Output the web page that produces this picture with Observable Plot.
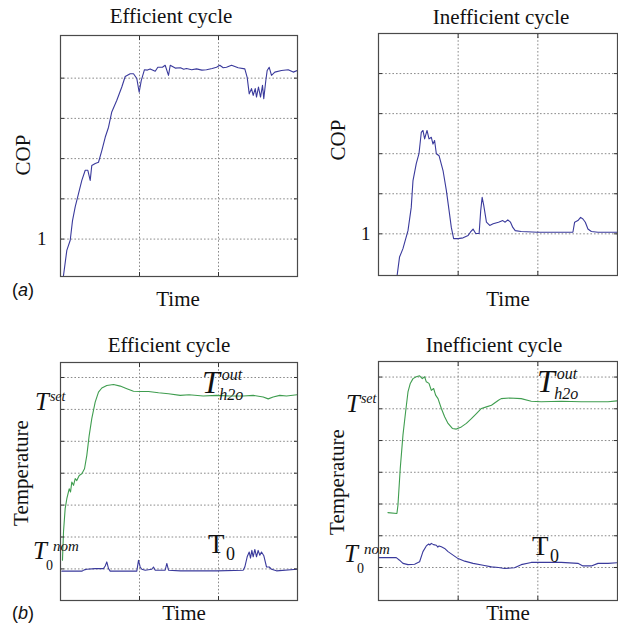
<!DOCTYPE html>
<html>
<head>
<meta charset="utf-8">
<script src="https://cdn.jsdelivr.net/npm/d3@7"></script>
<script src="https://cdn.jsdelivr.net/npm/@observablehq/plot@0.6"></script>
<style>
  html, body { margin: 0; padding: 0; background: #fff; }
  #root { position: relative; width: 618px; height: 631px; overflow: hidden; background: #fff; }
  #overlay { position: absolute; left: 0; top: 0; pointer-events: none; }
</style>
</head>
<body>
<div id="root"></div>
<script>
// ---------- data (time in grid units, values in grid units) ----------
const copEfficient = [[0.035,0.05],[0.080,0.72],[0.123,0.97],[0.152,1.46],[0.186,1.80],[0.228,2.13],[0.270,2.46],[0.313,2.71],[0.346,2.71],[0.376,2.46],[0.396,2.83],[0.440,2.88],[0.481,2.91],[0.523,3.20],[0.566,3.53],[0.608,3.78],[0.649,4.16],[0.713,4.45],[0.776,4.78],[0.819,5.04],[0.882,5.11],[0.924,5.11],[0.966,4.99],[0.996,4.65],[1.022,4.94],[1.063,5.21],[1.100,5.20],[1.135,5.23],[1.199,5.17],[1.232,5.27],[1.290,5.27],[1.325,5.32],[1.367,5.07],[1.389,5.32],[1.452,5.25],[1.519,5.26],[1.560,5.22],[1.595,5.24],[1.660,5.21],[1.722,5.23],[1.790,5.20],[1.848,5.21],[1.920,5.24],[1.975,5.27],[2.016,5.32],[2.060,5.26],[2.101,5.27],[2.165,5.32],[2.249,5.26],[2.333,5.23],[2.363,5.02],[2.389,4.61],[2.418,4.74],[2.439,4.57],[2.465,4.74],[2.481,4.53],[2.506,4.78],[2.532,4.53],[2.557,4.82],[2.573,4.49],[2.599,4.94],[2.616,5.19],[2.642,5.27],[2.671,5.07],[2.713,5.15],[2.797,5.19],[2.882,5.21],[2.946,5.15],[3.0,5.19]];
const copInefficient = [[0.231,-0.08],[0.264,0.42],[0.307,0.63],[0.370,1.08],[0.411,1.66],[0.433,2.33],[0.474,2.75],[0.508,3.00],[0.537,3.53],[0.558,3.58],[0.579,3.37],[0.609,3.58],[0.634,3.37],[0.663,3.41],[0.684,3.24],[0.704,3.33],[0.726,3.00],[0.760,2.95],[0.810,2.58],[0.852,2.08],[0.886,1.58],[0.914,1.16],[0.943,0.88],[0.999,0.88],[1.062,0.90],[1.125,0.96],[1.153,1.04],[1.187,1.12],[1.220,1.01],[1.263,1.01],[1.283,1.58],[1.301,1.91],[1.321,1.71],[1.355,1.29],[1.396,1.21],[1.439,1.25],[1.506,1.29],[1.560,1.33],[1.590,1.29],[1.623,1.35],[1.657,1.29],[1.686,1.16],[1.716,1.08],[1.791,1.06],[2.0,1.04],[2.294,1.04],[2.440,1.04],[2.462,1.29],[2.503,1.33],[2.537,1.41],[2.566,1.37],[2.596,1.29],[2.629,1.12],[2.672,1.06],[2.755,1.04],[3.0,1.04]];
const waterEfficient = [[0.025,0.27],[0.038,1.16],[0.059,1.89],[0.080,2.20],[0.110,2.51],[0.127,2.41],[0.143,2.72],[0.165,2.62],[0.186,2.83],[0.206,2.77],[0.237,2.93],[0.270,2.98],[0.304,3.14],[0.333,3.56],[0.363,4.18],[0.396,4.71],[0.439,5.23],[0.481,5.54],[0.523,5.67],[0.586,5.75],[0.671,5.78],[0.756,5.73],[0.840,5.65],[0.924,5.57],[1.009,5.56],[1.114,5.56],[1.241,5.52],[1.367,5.49],[1.515,5.44],[1.628,5.46],[1.806,5.42],[1.975,5.44],[2.144,5.42],[2.312,5.42],[2.439,5.44],[2.566,5.39],[2.629,5.33],[2.692,5.39],[2.776,5.44],[2.861,5.42],[3.0,5.46]];
const ambientEfficient = [[0.017,-0.07],[0.143,-0.07],[0.270,-0.07],[0.300,-0.03],[0.333,-0.01],[0.439,0.01],[0.544,0.01],[0.566,0.09],[0.586,0.22],[0.608,0.01],[0.629,-0.07],[0.734,-0.07],[0.966,-0.07],[0.987,0.27],[1.009,0.06],[1.029,-0.01],[1.072,-0.04],[1.156,-0.01],[1.177,0.06],[1.199,-0.04],[1.325,-0.04],[1.346,0.17],[1.367,-0.04],[1.519,-0.06],[1.975,-0.06],[2.312,-0.04],[2.333,0.06],[2.363,0.38],[2.389,0.53],[2.405,0.34],[2.422,0.58],[2.439,0.38],[2.460,0.61],[2.481,0.38],[2.502,0.58],[2.523,0.43],[2.544,0.53],[2.574,0.41],[2.608,0.06],[2.642,0.06],[2.671,-0.01],[2.734,-0.06],[3.0,-0.01]];
const waterInefficient = [[0.118,1.73],[0.231,1.70],[0.244,1.96],[0.273,3.12],[0.307,4.17],[0.340,4.90],[0.370,5.53],[0.399,5.80],[0.433,5.95],[0.474,6.01],[0.516,6.04],[0.550,5.95],[0.579,6.01],[0.600,5.85],[0.634,5.80],[0.663,5.58],[0.692,5.64],[0.717,5.43],[0.747,5.32],[0.789,5.01],[0.830,4.75],[0.873,4.54],[0.927,4.38],[0.977,4.36],[1.040,4.43],[1.103,4.54],[1.166,4.69],[1.229,4.85],[1.292,5.01],[1.355,5.06],[1.418,5.11],[1.506,5.27],[1.540,5.32],[1.644,5.34],[1.791,5.32],[1.917,5.24],[2.043,5.22],[2.294,5.24],[2.546,5.22],[2.713,5.22],[2.881,5.22],[3.0,5.25]];
const ambientInefficient = [[0,0.31],[0.223,0.31],[0.264,0.23],[0.307,0.13],[0.370,0.09],[0.453,0.10],[0.516,0.18],[0.558,0.50],[0.600,0.68],[0.630,0.74],[0.645,0.71],[0.663,0.76],[0.690,0.72],[0.726,0.70],[0.745,0.64],[0.760,0.68],[0.789,0.65],[0.830,0.60],[0.873,0.50],[0.936,0.39],[0.999,0.28],[1.082,0.20],[1.187,0.13],[1.313,0.07],[1.418,0.02],[1.506,0.0],[1.581,-0.03],[1.707,-0.01],[1.791,0.09],[1.917,0.16],[2.084,0.16],[2.294,0.16],[2.503,0.13],[2.566,0.05],[2.672,0.05],[2.755,0.13],[2.881,0.13],[3.0,0.15]];

const timeTicks = [1, 2];
const copTicks = [1, 2, 3, 4, 5];
const copLabelTicks = [1];
const tempTicks = [0, 1, 2, 3, 4, 5, 6];

const blue = "#3a3a9c";
const green = "#3f9d4f";
const gridStyle = {stroke: "#8a8a8a", strokeOpacity: 1, strokeWidth: 1, strokeDasharray: "1.6,2"};

const root = document.getElementById("root");

function panel({left, top, w, h, yDomain, yGrid, series, labelTicks, labelPadding}) {
  const mL = 34, mT = 4, mR = 1, mB = 4;
  const marks = [
    Plot.ruleX(timeTicks, {x: d => d, ...gridStyle}),
    Plot.ruleY(yGrid, {y: d => d, ...gridStyle}),
    ...series.map(s => Plot.line(s.data, {x: d => d[0], y: d => d[1], stroke: s.color, strokeWidth: 1.1, clip: true})),
    Plot.axisX(timeTicks, {anchor: "bottom", tickSize: -4, tickFormat: () => "", label: null, stroke: "#333"}),
    Plot.axisX(timeTicks, {anchor: "top", tickSize: -4, tickFormat: () => "", label: null, stroke: "#333"}),
    Plot.axisY(yGrid, {anchor: "left", tickSize: -4, tickFormat: () => "", label: null, stroke: "#333"}),
    Plot.axisY(yGrid, {anchor: "right", tickSize: -4, tickFormat: () => "", label: null, stroke: "#333"}),
    Plot.frame({stroke: "#4a4a4a", strokeWidth: 1.2})
  ];
  if (labelTicks) {
    marks.push(Plot.axisY(labelTicks, {anchor: "left", tickSize: 0, tickPadding: labelPadding, fontSize: 19, label: null, tickFormat: d => String(d), fill: "#111"}));
  }
  const chart = Plot.plot({
    width: w + mL + mR,
    height: h + mT + mB,
    marginLeft: mL, marginTop: mT, marginRight: mR, marginBottom: mB,
    x: {domain: [0, 3], axis: null},
    y: {domain: yDomain, axis: null},
    style: {background: "transparent", overflow: "visible", fontFamily: "Liberation Serif, Times New Roman, serif"},
    marks
  });
  chart.style.position = "absolute";
  chart.style.left = (left - mL) + "px";
  chart.style.top = (top - mT) + "px";
  root.appendChild(chart);
}

panel({left: 60, top: 35, w: 237, h: 241, yDomain: [0.07, 6.06], yGrid: copTicks,
       series: [{data: copEfficient, color: blue}], labelTicks: copLabelTicks, labelPadding: 14});
panel({left: 378, top: 33, w: 239, h: 242, yDomain: [-0.04, 6], yGrid: copTicks,
       series: [{data: copInefficient, color: blue}], labelTicks: copLabelTicks, labelPadding: 8});
panel({left: 60, top: 362, w: 237, h: 238, yDomain: [-0.99, 6.47], yGrid: tempTicks,
       series: [{data: waterEfficient, color: green}, {data: ambientEfficient, color: blue}]});
panel({left: 378, top: 361, w: 239, h: 239, yDomain: [-1.04, 6.49], yGrid: tempTicks,
       series: [{data: waterInefficient, color: green}, {data: ambientInefficient, color: blue}]});

// ---------- text overlay ----------
const svg = d3.select(root).append("svg").attr("id", "overlay").attr("width", 618).attr("height", 631)
  .style("font-family", "Liberation Serif, Times New Roman, serif").style("fill", "#111");

function txt(x, y, s, size, opts = {}) {
  const t = svg.append("text").attr("x", x).attr("y", y).attr("font-size", size).text(s);
  if (opts.anchor) t.attr("text-anchor", opts.anchor);
  if (opts.italic) t.attr("font-style", "italic");
  if (opts.rotate) t.attr("transform", `rotate(-90 ${x} ${y})`);
  if (opts.family) t.style("font-family", opts.family);
  return t;
}
function span(t, s, size, opts = {}) {
  const sp = t.append("tspan").attr("font-size", size).text(s);
  if (opts.italic) sp.attr("font-style", "italic");
  if (opts.dx != null) sp.attr("dx", opts.dx);
  if (opts.dy != null) sp.attr("dy", opts.dy);
  return sp;
}

// titles
txt(171, 23, "Efficient cycle", 21, {anchor: "middle"});
txt(501, 24, "Inefficient cycle", 21, {anchor: "middle"});
txt(169, 352, "Efficient cycle", 21, {anchor: "middle"});
txt(494, 352, "Inefficient cycle", 21, {anchor: "middle"});
// x labels
txt(178, 306, "Time", 21, {anchor: "middle"});
txt(508, 306, "Time", 21, {anchor: "middle"});
txt(184, 620, "Time", 21, {anchor: "middle"});
txt(508, 620, "Time", 21, {anchor: "middle"});
// y labels
txt(30, 155, "COP", 21, {anchor: "middle", rotate: true});
txt(345, 140, "COP", 21, {anchor: "middle", rotate: true});
txt(28, 473, "Temperature", 21, {anchor: "middle", rotate: true});
txt(344, 482, "Temperature", 21, {anchor: "middle", rotate: true});
// panel letters
const sans = "Liberation Sans, Arial, sans-serif";
const a = txt(12, 296, "(", 18, {family: sans}); span(a, "a", 18, {italic: true}); span(a, ")", 18);
const b = txt(12, 619, "(", 18, {family: sans}); span(b, "b", 18, {italic: true}); span(b, ")", 18);

// temperature annotations (one text element each, with sub/superscripts as tspans)
function tSet(x, y) {
  const t = txt(x, y, "", 25);
  span(t, "T", 25, {italic: true});
  span(t, "set", 14, {italic: true, dx: 1, dy: -9});
}
function tNom(x, y) {
  const t = txt(x, y, "", 25);
  span(t, "T", 25, {italic: true});
  span(t, "0", 14, {dx: -1, dy: 11});
  span(t, "nom", 15, {italic: true, dx: 0, dy: -19});
}
function tOut(x, y) {
  const t = txt(x, y, "", 32);
  span(t, "T", 32, {italic: true});
  span(t, "out", 16, {italic: true, dx: 2, dy: -13});
  span(t, "h2o", 16, {italic: true, dx: -23, dy: 20});
}
function tZero(x, y) {
  const t = txt(x, y, "", 27);
  span(t, "T", 27);
  span(t, "0", 18, {dx: 1.5, dy: 7});
}
tSet(35, 410); tNom(33, 559); tOut(202, 393); tZero(208, 553);
tSet(346, 412); tNom(344, 562); tOut(537, 392); tZero(532, 555);
</script>
</body>
</html>
